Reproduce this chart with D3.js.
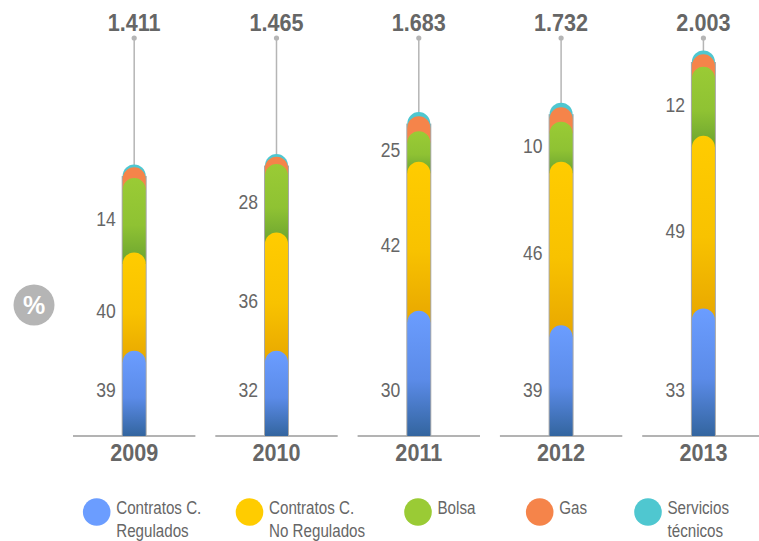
<!DOCTYPE html>
<html>
<head>
<meta charset="utf-8">
<script src="https://cdn.jsdelivr.net/npm/d3@7"></script>
<style>
    body { margin: 0; background: #fff; }
    svg { display: block; font-family: "Liberation Sans", Arial, sans-serif; }
</style>
</head>
<body>
<div id="chart"></div>
<script>
// Chart data (values of each segment, same units as the totals)
const years = ["2009", "2010", "2011", "2012", "2013"];
const totals = [1411, 1465, 1683, 1732, 2003];
const regulados = [443, 443, 651, 575, 663];
const noRegulados = [511, 615, 774, 850, 897];
const bolsa = [386, 355, 159, 208, 358];
const gas = [56, 38, 78, 75, 65];
const servicios = [15, 14, 21, 24, 20];

// Percentage labels printed next to the bars
const pctRegulados = [39, 32, 30, 39, 33];
const pctNoRegulados = [40, 36, 42, 46, 49];
const pctBolsa = [14, 28, 25, 10, 12];

const seriesNames = ["Contratos C.\nRegulados", "Contratos C.\nNo Regulados", "Bolsa", "Gas", "Servicios\ntécnicos"];

function drawChart() {
    const width = 759;
    const height = 541;
    const baseline = 436;
    const barWidth = 23;
    const r = barWidth / 2;
    const textColor = "#666";

    const svg = d3.select("#chart")
        .append("svg")
        .attr("width", width)
        .attr("height", height);

    const x = d3.scaleBand()
        .domain(years)
        .range([73, 764.6])
        .paddingInner(0.14)
        .paddingOuter(0);

    const y = d3.scaleLinear()
        .domain([0, d3.max(totals)])
        .range([baseline, 50.5]);

    const fmt = d3.formatLocale({ decimal: ",", thousands: ".", grouping: [3], currency: ["", ""] }).format(",");

    // The original uses a condensed face, so squeeze the text horizontally
    function addText(px, py, sx, size, weight, anchor) {
        return svg.append("g")
            .attr("transform", `translate(${px},${py}) scale(${sx},1)`)
            .append("text")
            .attr("text-anchor", anchor)
            .attr("fill", textColor)
            .attr("font-size", size)
            .attr("font-weight", weight);
    }

    // Gradients for the segments (top colour -> bottom colour)
    const colors = [
        ["#6b9dff", "#5b8be8", "#33659f"],
        ["#ffcc00", "#f8c200", "#e8a700"],
        ["#9acb35", "#8fc233", "#6ba330"],
        ["#f5844a", "#f5844a", "#f5844a"],
        ["#4fc7d0", "#4fc7d0", "#4fc7d0"]
    ];
    const defs = svg.append("defs");
    colors.forEach((c, i) => {
        const g = defs.append("linearGradient")
            .attr("id", "grad" + i)
            .attr("x1", 0).attr("y1", 0)
            .attr("x2", 0).attr("y2", 1);
        g.append("stop").attr("offset", "0%").attr("stop-color", c[0]);
        g.append("stop").attr("offset", "55%").attr("stop-color", c[1]);
        g.append("stop").attr("offset", "100%").attr("stop-color", c[2]);
    });

    // Baseline pieces under every year
    svg.selectAll(".base")
        .data(years)
        .enter()
        .append("line")
        .attr("x1", (d) => x(d))
        .attr("x2", (d) => x(d) + x.bandwidth())
        .attr("y1", baseline)
        .attr("y2", baseline)
        .attr("stroke", "#9a9a9a")
        .attr("stroke-width", 1.5);

    // Rounded bar piece: flat bottom at yBottom, half circle on top at yTop
    function capPath(cx, yTop, yBottom) {
        const left = cx - r;
        const right = cx + r;
        const yc = yTop + r;
        return `M${left},${yBottom} L${left},${yc} A${r},${r} 0 0 1 ${right},${yc} L${right},${yBottom} Z`;
    }

    const series = [regulados, noRegulados, bolsa, gas, servicios];

    years.forEach((year, i) => {
        const cx = x(year) + x.bandwidth() / 2;
        const stack = d3.cumsum(series.map((s) => s[i]));
        const tops = stack.map((v) => y(v));

        // Stem and dot up to the total label
        svg.append("line")
            .attr("x1", cx).attr("x2", cx)
            .attr("y1", 38).attr("y2", tops[4] + 2)
            .attr("stroke", "#b5b5b5")
            .attr("stroke-width", 1.5);
        svg.append("circle")
            .attr("cx", cx).attr("cy", 38)
            .attr("r", 2.6)
            .attr("fill", "#b5b5b5");

        addText(cx, 30.5, 0.92, 23.5, "bold", "middle").text(fmt(totals[i]));

        // Thin gray edge along the sides of the bar
        svg.append("rect")
            .attr("x", cx - r - 1)
            .attr("y", tops[4] + r)
            .attr("width", barWidth + 2)
            .attr("height", baseline - tops[4] - r)
            .attr("fill", "#a8a8a8");

        // Segments from the top one down, so the lower caps cover the upper ones
        for (let k = 4; k >= 0; k--) {
            const bottom = k === 0 ? baseline : tops[k - 1] + r;
            svg.append("path")
                .attr("d", capPath(cx, tops[k], bottom))
                .attr("fill", `url(#grad${k})`);
        }

        // Percentage labels
        const labelX = cx - r - 7;
        const labels = [
            { v: pctRegulados[i], y: baseline - 39 },
            { v: pctNoRegulados[i], y: (tops[1] + tops[0]) / 2 + 16 },
            { v: pctBolsa[i], y: (tops[2] + tops[1]) / 2 + 11 }
        ];
        labels.forEach((l) => {
            addText(labelX, l.y, 0.9, 19.5, "normal", "end").text(l.v);
        });

        // Year label
        addText(cx, 461, 0.92, 23.5, "bold", "middle").text(year);
    });

    // Grey "%" badge
    svg.append("circle")
        .attr("cx", 34).attr("cy", 305)
        .attr("r", 20.5)
        .attr("fill", "#b5b5b5");
    svg.append("text")
        .attr("x", 34).attr("y", 314)
        .attr("text-anchor", "middle")
        .attr("fill", "#fff")
        .attr("font-size", 25)
        .attr("font-weight", "bold")
        .text("%");

    // Legend
    const legendX = [96.7, 249.5, 418, 539.7, 648];
    const legendColors = ["#6b9dff", "#ffcc00", "#9acb35", "#f5844a", "#4fc7d0"];
    seriesNames.forEach((name, i) => {
        svg.append("circle")
            .attr("cx", legendX[i]).attr("cy", 512)
            .attr("r", 13.8)
            .attr("fill", legendColors[i]);
        const t = addText(legendX[i] + 19.5, 514, 0.82, 18.5, "normal", "start");
        name.split("\n").forEach((line, j) => {
            t.append("tspan")
                .attr("x", 0)
                .attr("dy", j === 0 ? 0 : 23.5)
                .text(line);
        });
    });
}

drawChart();
</script>
</body>
</html>
